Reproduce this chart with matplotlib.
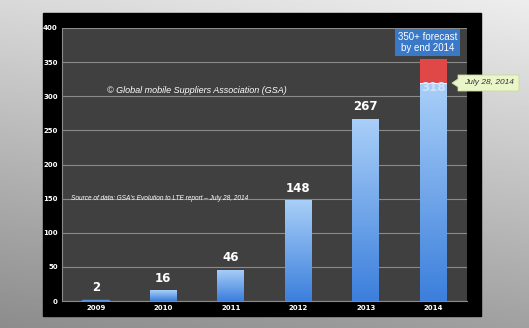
import numpy as np
import matplotlib.pyplot as plt
from matplotlib.patches import Rectangle, Polygon
from matplotlib.colors import LinearSegmentedColormap

years = ['2009', '2010', '2011', '2012', '2013', '2014']
networks = [2, 16, 46, 148, 267, 318]
forecast_extra = [0, 0, 0, 0, 0, 36]
yticks = [0, 50, 100, 150, 200, 250, 300, 350, 400]

W, H = 529, 328
fig = plt.figure(figsize=(W / 100, H / 100), dpi=100)

# grey gradient backdrop
bg = fig.add_axes([0, 0, 1, 1])
yy, xx = np.mgrid[0:1:200j, 0:1:300j]
shade = 0.55 + 0.30 * yy + 0.08 * xx
bg.imshow(shade, cmap='gray', vmin=0, vmax=1, aspect='auto', origin='lower',
          extent=[0, 1, 0, 1])
bg.set_axis_off()
# black slide panel
bg.add_patch(Rectangle((43 / W, 1 - 316 / H), (481 - 43) / W, (316 - 13) / H,
                       color='black', zorder=2))

ax = fig.add_axes([62 / W, 1 - 301 / H, (467 - 62) / W, (301 - 28) / H])
ax.set_facecolor('#404040')
x = np.arange(len(years))
ax.set_xlim(-0.5, len(years) - 0.5)
ax.set_ylim(0, 400)
ax.set_yticks(yticks)
ax.set_xticks(x)
ax.set_xticklabels(years)
ax.tick_params(colors='white', labelsize=5, length=0, pad=3)
for lab in ax.get_xticklabels() + ax.get_yticklabels():
    lab.set_fontweight('bold')
ax.yaxis.grid(True, color='#8a8a8a', lw=0.8)
ax.set_axisbelow(True)
for s in ['top', 'right']:
    ax.spines[s].set_visible(False)
ax.spines['left'].set_color('#8a8a8a')
ax.spines['bottom'].set_color('#8a8a8a')

bars = ax.bar(x, networks, width=0.4, color='#5b9bec', zorder=2)
grad = np.linspace(0, 1, 100).reshape(-1, 1)
blue = LinearSegmentedColormap.from_list('b', ['#3c7fdc', '#a9cff8'])
for b in bars:
    bx, by = b.get_x(), b.get_y()
    im = ax.imshow(grad, cmap=blue, aspect='auto', origin='lower', zorder=3,
                   extent=[bx, bx + b.get_width(), by, by + b.get_height()])
    im.set_clip_path(b)
bars[0].set_color('#8090a8')
ax.bar(x, forecast_extra, bottom=networks, width=0.4, color='#e04848', zorder=3)
ax.bar(x[-1], 1.5, bottom=networks[-1], width=0.4, color='white', zorder=4)

for i, v in enumerate(networks[:-1]):
    ax.text(i, v + 8, str(v), color='white', fontsize=8.5, fontweight='bold',
            ha='center', va='bottom', zorder=5)
ax.text(x[-1], networks[-1] - 5, str(networks[-1]), color='#cfe3fb', fontsize=8.5,
        fontweight='bold', ha='center', va='center', zorder=5)

ax.text(1.5, 308, '\u00a9 Global mobile Suppliers Association (GSA)', color='white',
        fontsize=6.5, style='italic', ha='center', va='center', family='Liberation Sans')
ax.text(-0.36, 150, "Source of data: GSA's Evolution to LTE report \u2013 July 28, 2014",
        color='white', fontsize=4.7, style='italic', ha='left', va='center',
        family='Liberation Sans')

ax.text(4.915, 379, '350+ forecast\nby end 2014', color='white', fontsize=7,
        ha='center', va='center', linespacing=1.15, zorder=6, family='Liberation Sans',
        bbox=dict(boxstyle='square,pad=0.3', fc='#3a78c8', ec='none'))

# green callout with arrow tip
cx0, cx1, cy0, cy1 = 452, 519, 75, 91
pts = [(cx0 + 6, cy0), (cx1, cy0), (cx1, cy1), (cx0 + 6, cy1), (cx0 + 6, cy1 - 4),
       (cx0, (cy0 + cy1) / 2), (cx0 + 6, cy0 + 4)]
fig.patches.append(Polygon([(px / W, 1 - py / H) for px, py in pts], closed=True,
                           fc='#eaf5c9', ec='#c8dc98', lw=0.6,
                           transform=fig.transFigure, zorder=10))
fig.text((cx0 + cx1 + 6) / 2 / W, 1 - (cy0 + cy1) / 2 / H, 'July 28, 2014', fontsize=6,
         style='italic', color='#333333', ha='center', va='center', zorder=11,
         family='Liberation Sans')

fig.savefig('out.png', dpi=100)
